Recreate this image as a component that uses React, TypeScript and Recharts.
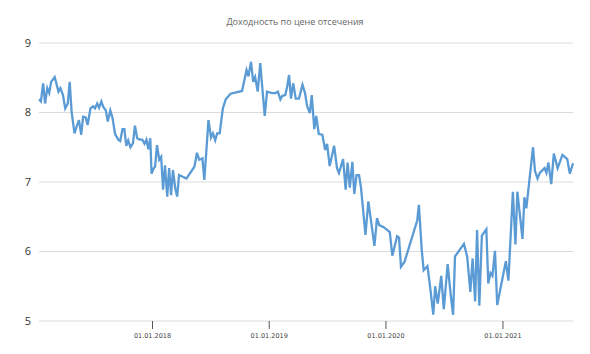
import { LineChart, Line, XAxis, YAxis, CartesianGrid } from 'recharts';

// даты аукционов и доходность по цене отсечения, %
const dates = [
  '2017-01-11', '2017-01-17', '2017-01-24', '2017-01-30', '2017-02-06', '2017-02-12', '2017-02-18', '2017-03-01',
  '2017-03-13', '2017-03-19', '2017-03-27', '2017-04-03', '2017-04-11', '2017-04-17', '2017-04-23', '2017-05-02',
  '2017-05-08', '2017-05-16', '2017-05-23', '2017-05-29', '2017-06-06', '2017-06-12', '2017-06-21', '2017-06-29',
  '2017-07-05', '2017-07-12', '2017-07-18', '2017-07-25', '2017-07-31', '2017-08-08', '2017-08-14', '2017-08-22',
  '2017-08-29', '2017-09-06', '2017-09-16', '2017-09-22', '2017-09-29', '2017-10-05', '2017-10-11', '2017-10-17',
  '2017-10-24', '2017-11-01', '2017-11-07', '2017-11-14', '2017-11-22', '2017-11-30', '2017-12-07', '2017-12-13',
  '2017-12-19', '2017-12-25', '2017-12-29',
  '2018-01-05', '2018-01-09', '2018-01-15', '2018-01-22', '2018-01-28', '2018-02-03', '2018-02-09', '2018-02-16',
  '2018-02-22', '2018-02-28', '2018-03-06', '2018-03-13', '2018-03-19', '2018-03-25', '2018-04-17', '2018-05-12',
  '2018-05-20', '2018-05-27', '2018-06-02', '2018-06-06', '2018-06-12', '2018-06-25', '2018-07-03', '2018-07-09',
  '2018-07-16', '2018-07-22', '2018-07-30', '2018-08-09', '2018-08-18', '2018-09-02', '2018-10-08', '2018-10-22',
  '2018-10-28', '2018-11-05', '2018-11-12', '2018-11-18', '2018-11-26', '2018-12-04', '2018-12-11', '2018-12-18',
  '2018-12-25',
  '2019-01-10', '2019-01-20', '2019-01-28', '2019-02-05', '2019-02-11', '2019-02-20', '2019-02-26', '2019-03-04',
  '2019-03-10', '2019-03-17', '2019-03-25', '2019-04-04', '2019-04-15', '2019-04-23', '2019-04-29', '2019-05-08',
  '2019-05-14', '2019-05-22', '2019-05-28', '2019-06-05', '2019-06-16', '2019-06-25', '2019-07-01', '2019-07-09',
  '2019-07-23', '2019-08-01', '2019-08-07', '2019-08-20', '2019-08-28', '2019-09-03', '2019-09-10', '2019-09-18',
  '2019-09-24', '2019-10-01', '2019-10-09', '2019-10-15', '2019-10-29', '2019-11-07', '2019-11-26', '2019-12-04',
  '2019-12-11', '2019-12-25',
  '2020-01-13', '2020-01-21', '2020-02-05', '2020-02-11', '2020-02-17', '2020-02-28', '2020-04-08', '2020-04-13',
  '2020-04-22', '2020-04-28', '2020-05-10', '2020-05-20', '2020-05-28', '2020-06-03', '2020-06-11', '2020-06-22',
  '2020-06-30', '2020-07-12', '2020-07-21', '2020-07-29', '2020-08-04', '2020-09-01', '2020-09-11', '2020-09-21',
  '2020-09-28', '2020-10-06', '2020-10-12', '2020-10-19', '2020-10-27', '2020-11-10', '2020-11-16', '2020-11-23',
  '2020-11-29', '2020-12-07', '2020-12-14',
  '2021-01-10', '2021-01-18', '2021-02-01', '2021-02-09', '2021-02-15', '2021-03-03', '2021-03-09', '2021-03-15',
  '2021-04-05', '2021-04-11', '2021-04-19', '2021-04-26', '2021-05-11', '2021-05-17', '2021-05-23', '2021-06-01',
  '2021-06-09', '2021-06-21', '2021-07-06', '2021-07-21', '2021-07-29', '2021-08-08',
];

const yields = [
  8.19, 8.16, 8.42, 8.13, 8.35, 8.28, 8.44, 8.51,
  8.3, 8.35, 8.25, 8.06, 8.13, 8.44, 8.01, 7.7,
  7.79, 7.89, 7.68, 7.94, 7.93, 7.82, 8.06, 8.09,
  8.06, 8.13, 8.07, 8.16, 8.08, 8.03, 7.87, 8.03,
  7.92, 7.69, 7.61, 7.59, 7.76, 7.76, 7.52, 7.6,
  7.5, 7.56, 7.81, 7.63, 7.61, 7.61, 7.55, 7.61,
  7.47, 7.63, 7.12,
  7.2, 7.22, 7.53, 7.32, 7.36, 6.89, 7.24, 6.79,
  7.2, 6.81, 7.17, 6.91, 6.79, 7.1, 7.05, 7.22,
  7.42, 7.32, 7.33, 7.34, 7.03, 7.89, 7.64, 7.7,
  7.6, 7.7, 7.7, 8.06, 8.19, 8.27, 8.31, 8.61,
  8.52, 8.73, 8.44, 8.51, 8.3, 8.71, 8.32, 7.95,
  8.3,
  8.28, 8.28, 8.3, 8.19, 8.24, 8.25, 8.37, 8.54,
  8.2, 8.42, 8.2, 8.2, 8.4, 8.28, 8.1, 7.99,
  8.25, 7.76, 7.95, 7.69, 7.68, 7.46, 7.55, 7.23,
  7.52, 7.2, 7.13, 7.33, 6.89, 7.28, 6.92, 7.29,
  6.83, 7.1, 7.1, 6.92, 6.24, 6.72, 6.08, 6.48,
  6.38, 6.35,
  6.28, 5.94, 6.22, 6.2, 5.78, 5.85, 6.45, 6.67,
  6.02, 5.73, 5.79, 5.42, 5.09, 5.5, 5.25, 5.65,
  5.17, 5.82, 5.4, 5.09, 5.93, 6.11, 5.93, 5.42,
  5.9, 5.28, 6.31, 5.22, 6.23, 6.32, 5.54, 5.69,
  5.65, 6.01, 5.23,
  5.86, 5.58, 6.86, 6.1, 6.86, 6.18, 6.78, 6.62,
  7.5, 7.16, 7.05, 7.13, 7.2, 7.13, 7.28, 6.97,
  7.41, 7.2, 7.39, 7.33, 7.12, 7.27,
];

const yearTicks = ['2018-01-01', '2019-01-01', '2020-01-01', '2021-01-01'];
const yTicks = [5, 6, 7, 8, 9];

const data = dates.map((d, i) => ({ t: Date.parse(d), v: yields[i] }));

const fmtDate = (t: number) => {
  const d = new Date(t);
  const dd = String(d.getUTCDate()).padStart(2, '0');
  const mm = String(d.getUTCMonth() + 1).padStart(2, '0');
  return `${dd}.${mm}.${d.getUTCFullYear()}`;
};

export default function App() {
  return (
    <div
      style={{
        position: 'absolute',
        left: 0,
        top: 0,
        width: 590,
        height: 354,
        background: '#fff',
        fontFamily: '"Open Sans", "Liberation Sans", sans-serif',
      }}
    >
      <div
        style={{
          position: 'absolute',
          top: 15,
          left: 0,
          width: 590,
          textAlign: 'center',
          fontSize: 9,
          color: '#666',
        }}
      >
        Доходность по цене отсечения
      </div>
      <LineChart
        width={590}
        height={354}
        data={data}
        margin={{ top: 43, right: 17, bottom: 3, left: 0 }}
      >
        <CartesianGrid vertical={false} stroke="#dcdcdc" />
        <XAxis
          dataKey="t"
          type="number"
          domain={['dataMin', 'dataMax']}
          ticks={yearTicks.map((d) => Date.parse(d))}
          tickFormatter={fmtDate}
          axisLine={false}
          tickLine={{ stroke: '#555' }}
          tickSize={8}
          tickMargin={4}
          height={30}
          tick={{ fontSize: 6.5, fill: '#444', fontFamily: 'Tahoma, "DejaVu Sans", sans-serif' }}
        />
        <YAxis
          domain={[5, 9]}
          ticks={yTicks}
          axisLine={false}
          tickLine={false}
          width={39}
          tick={{ fontSize: 11, fill: '#333' }}
        />
        <Line
          type="linear"
          dataKey="v"
          stroke="#5b9bd5"
          strokeWidth={2.3}
          dot={false}
          isAnimationActive={false}
        />
      </LineChart>
    </div>
  );
}
